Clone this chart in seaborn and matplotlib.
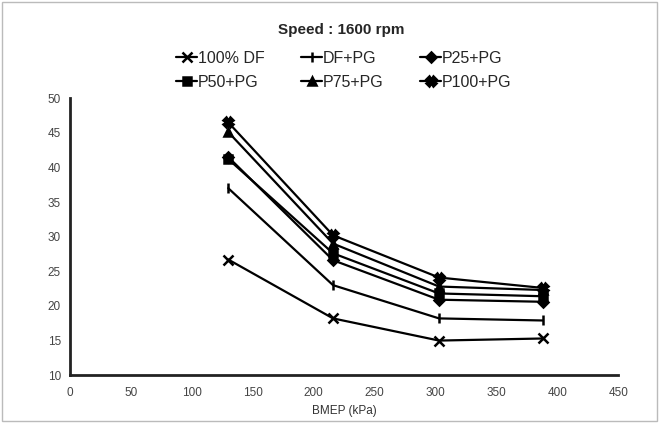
import matplotlib
matplotlib.use("Agg")
import matplotlib.pyplot as plt
import pandas as pd
import seaborn as sns

bmep = [130, 216, 303, 388]
series_names = ["100% DF", "DF+PG", "P25+PG", "P50+PG", "P75+PG", "P100+PG"]
df100 = [26.7, 18.2, 15.0, 15.3]
df_pg = [37.0, 23.0, 18.2, 17.9]
p25_pg = [41.5, 26.6, 20.9, 20.6]
p50_pg = [41.2, 27.6, 21.8, 21.4]
p75_pg = [45.1, 29.0, 22.8, 22.3]
p100_pg = [46.5, 30.2, 24.1, 22.6]
markers = ["x", "|", "D", "s", "^", "X"]

values = [df100, df_pg, p25_pg, p50_pg, p75_pg, p100_pg]
rows = []
for name, ys in zip(series_names, values):
    for x, y in zip(bmep, ys):
        rows.append({"BMEP": x, "value": y, "series": name})
data = pd.DataFrame(rows)

sns.set_style("white")
plt.rcParams["font.family"] = ["Liberation Sans", "DejaVu Sans"]

fig = plt.figure(figsize=(6.59, 4.23), dpi=100)
ax = fig.add_axes([0.106, 0.113, 0.832, 0.655])

for name, mk in zip(series_names, markers):
    sub = data[data["series"] == name]
    ms = 7 if mk in ("x", "|", "X") else 5.5
    sns.lineplot(data=sub, x="BMEP", y="value", ax=ax, color="black",
                 linewidth=1.6, marker=mk, markersize=ms, markeredgewidth=1.8,
                 markeredgecolor="black", markerfacecolor="black", label=name)

ax.set_xlim(0, 450)
ax.set_ylim(10, 50)
ax.set_xticks(range(0, 451, 50))
ax.set_yticks(range(10, 51, 5))
for side in ("top", "right"):
    ax.spines[side].set_visible(False)
for side in ("left", "bottom"):
    ax.spines[side].set_linewidth(2)
    ax.spines[side].set_color("#222222")
ax.tick_params(axis="both", labelsize=8.5, colors="#222222", labelcolor="#444444",
               length=3, width=1.2, direction="out")
ax.tick_params(axis="x", direction="inout", length=3, pad=7)
ax.set_xlabel("BMEP (kPa)", fontsize=8.5, color="#333333", labelpad=4)
ax.set_ylabel("")

fig.text(0.518, 0.93, "Speed : 1600 rpm", ha="center", va="center",
         fontsize=11, fontweight="bold")

# row-wise legend order (matplotlib fills columns first)
handles, labels = ax.get_legend_handles_labels()
order = [0, 3, 1, 4, 2, 5]
ax.legend([handles[i] for i in order], [labels[i] for i in order],
          ncol=3, frameon=False, fontsize=11.5, loc="lower center",
          bbox_to_anchor=(0.50, 0.99), handlelength=1.3, handletextpad=0.05,
          columnspacing=2.3, labelspacing=0.55, borderaxespad=0.3)

fig.patches.append(plt.Rectangle((0.003, 0.005), 0.994, 0.99, transform=fig.transFigure,
                                 fill=False, edgecolor="#bbbbbb", linewidth=1))

fig.savefig("out.png", dpi=100, facecolor="white")
